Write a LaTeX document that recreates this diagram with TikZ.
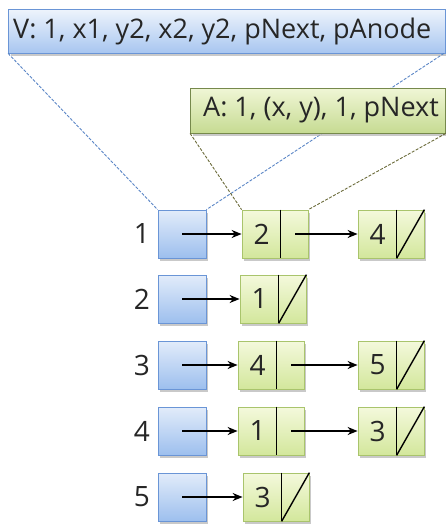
\documentclass[tikz,border=0pt]{standalone}
\usepackage{fontspec}
\setmainfont{Open Sans}
\usetikzlibrary{calc,arrows.meta,shadows}
\definecolor{bbord}{HTML}{6A95D6}
\definecolor{btop}{HTML}{E2ECFA}
\definecolor{bbot}{HTML}{9DBFEE}
\definecolor{gbord}{HTML}{A9C46C}
\definecolor{gtop}{HTML}{F4F9DC}
\definecolor{gbot}{HTML}{D3E79C}
\definecolor{vtop}{HTML}{EEF4FC}
\definecolor{vbot}{HTML}{A8C6F0}
\definecolor{atop}{HTML}{F0F6D6}
\definecolor{abot}{HTML}{C6DB92}
\definecolor{bdash}{HTML}{5B86C6}
\definecolor{odash}{HTML}{6B6B3A}
\tikzset{
  shd/.style={drop shadow={shadow xshift=2pt,shadow yshift=-2.5pt,fill=gray!60,opacity=0.7}},
  bbox/.style={draw=bbord,line width=0.8pt,top color=btop,bottom color=bbot,minimum width=48pt,minimum height=48pt,inner sep=0pt,shd},
  gbox/.style={draw=gbord,line width=0.8pt,top color=gtop,bottom color=gbot,minimum width=66pt,minimum height=48pt,inner sep=0pt,shd},
  vbox/.style={draw=bbord,line width=0.8pt,top color=vtop,bottom color=vbot,inner sep=0pt,shd},
  abox/.style={draw=gbord!70!black,line width=0.8pt,top color=atop,bottom color=abot,inner sep=0pt,shd},
  digit/.style={font=\fontsize{28}{30}\selectfont,text=black!85,inner sep=0pt},
  lbl/.style={font=\fontsize{27}{30}\selectfont,text=black!85,inner sep=0pt},
  ptr/.style={-{Stealth[length=10pt,width=8pt]},line width=1.3pt,black},
  bline/.style={bdash,dash pattern=on 3pt off 1.5pt,line width=0.9pt},
  oline/.style={odash,dash pattern=on 3pt off 1.5pt,line width=0.9pt},
  sep/.style={line width=1.4pt,black}
}
\newcommand{\gcell}[5]{% name, x, y, digit, null(1/0)
  \node[gbox] (#1) at (#2,#3) {};
  \node[digit] (#1d) at ($(#1.west)+(20,0)$) {#4};
  \draw[sep] ($(#1.north west)+(39,0)$) -- ($(#1.south west)+(39,0)$);
  \ifnum#5=1 \draw[sep] ($(#1.south west)+(39,0)$) -- (#1.north east);\fi
}
\begin{document}
\begin{tikzpicture}[x=1pt,y=-1pt]
\useasboundingbox (0,0) rectangle (446,525);
% top boxes
\node[vbox,minimum width=437pt,minimum height=44pt] (V) at (227,31) {};
\node[lbl,anchor=west] (Vt) at (13,31) {V: 1, x1, y2, x2, y2, pNext, pAnode};
% blue boxes
\foreach \i/\y in {1/234,2/299,3/365,4/431,5/497}{
  \node[bbox] (b\i) at (182,\y) {};
  \node[digit] (n\i) at (142,\y) {\i};
}
% green cells
\gcell{g11}{275}{234}{2}{0}
\gcell{g12}{391}{234}{4}{1}
\gcell{g21}{273}{299}{1}{1}
\gcell{g31}{271}{365}{4}{0}
\gcell{g32}{391}{365}{5}{1}
\gcell{g41}{271}{431}{1}{0}
\gcell{g42}{391}{431}{3}{1}
\gcell{g51}{276}{497}{3}{1}
% dashed connectors (behind A box)
\coordinate (Vsw) at (V.south west);
\coordinate (Vse) at ($(V.south east)+(-2,0)$);
\draw[bline] (Vsw) -- (b1.north west);
\draw[bline] (Vse) -- (b1.north east);
\node[abox,minimum width=255pt,minimum height=45pt] (A) at (318,110.5) {};
\node[lbl,anchor=west] (At) at (203,110.5) {A: 1, (x, y), 1, pNext};
\draw[oline] (A.south west) -- (g11.north west);
\draw[oline] (A.south east) -- (g11.north east);
% arrows
\draw[ptr] (b1.center) -- (g11.west);
\draw[ptr] (b2.center) -- (g21.west);
\draw[ptr] (b3.center) -- (g31.west);
\draw[ptr] (b4.center) -- (g41.west);
\draw[ptr] (b5.center) -- (g51.west);
\draw[ptr] ($(g11.east)+(-13,0)$) -- (g12.west);
\draw[ptr] ($(g31.east)+(-13,0)$) -- (g32.west);
\draw[ptr] ($(g41.east)+(-13,0)$) -- (g42.west);
\end{tikzpicture}
\end{document}
